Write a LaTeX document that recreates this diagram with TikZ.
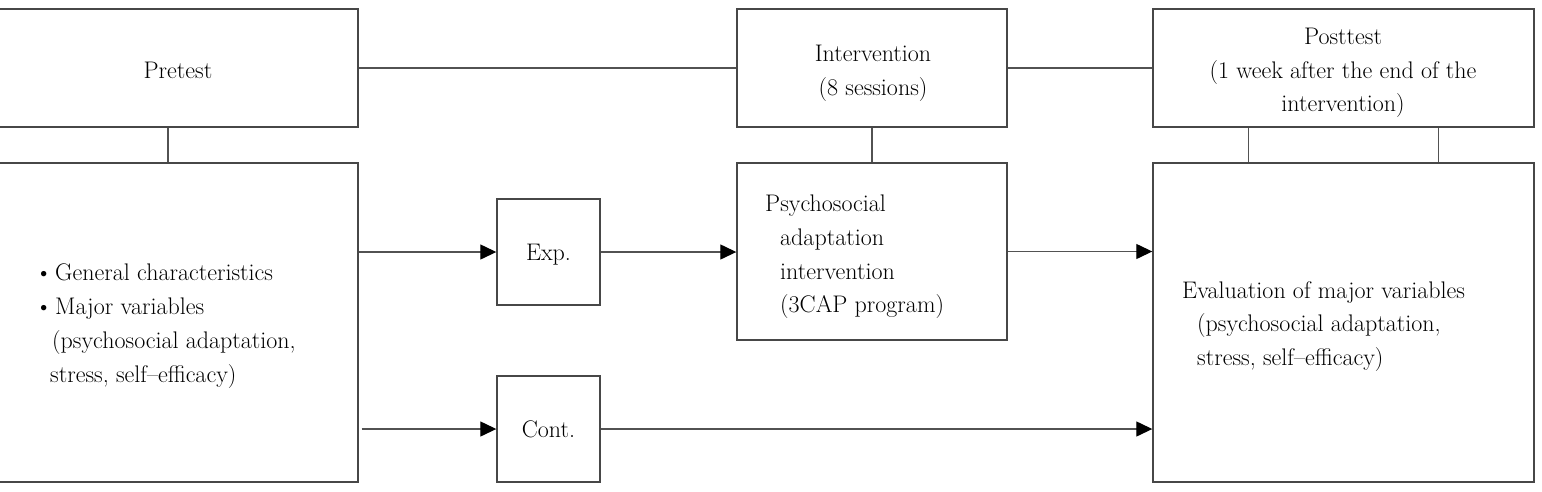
\documentclass[tikz,border=0pt]{standalone}
\usetikzlibrary{arrows.meta}
\begin{document}
\begin{tikzpicture}[x=1pt,y=-1pt,
  box/.style={draw=black!72, line width=1.4pt, inner sep=0pt, fill=none},
  lbl/.style={inner sep=0pt, anchor=base west, text=black},
  clbl/.style={inner sep=0pt, anchor=base, text=black},
  conn/.style={draw=black!68, line width=1.3pt},
  arr/.style={conn, -{Triangle[length=16pt,width=15pt,black]}},
  font=\fontsize{24}{34}\selectfont]
\useasboundingbox (0,0) rectangle (1542,491);
% boxes
\node[box, minimum width=360pt, minimum height=118pt] (pre) at (178,68) {};
\node[box, minimum width=270pt, minimum height=118pt] (int) at (872,68) {};
\node[box, minimum width=381pt, minimum height=118pt] (post) at (1343.5,68) {};
\node[box, minimum width=360pt, minimum height=319pt] (left) at (178,322.5) {};
\node[box, minimum width=103pt, minimum height=106pt] (exp) at (548.5,252) {};
\node[box, minimum width=103pt, minimum height=106pt] (cont) at (548.5,429) {};
\node[box, minimum width=270pt, minimum height=177pt] (psy) at (872,251.5) {};
\node[box, minimum width=381pt, minimum height=319pt] (right) at (1343.5,322.5) {};
% texts
\node[clbl] (tpre) at (178,78) {Pretest};
\node[clbl] (tint1) at (873,61) {Intervention};
\node[clbl] (tint2) at (873,95) {(8 sessions)};
\node[clbl] (tpost1) at (1343,44) {Posttest};
\node[clbl] (tpost2) at (1343,78) {(1 week after the end of the};
\node[clbl] (tpost3) at (1343,111) {intervention)};
\node[lbl] (b1) at (35,280) {\textbullet};
\node[lbl] (tl1) at (55,280) {General characteristics};
\node[lbl] (b2) at (35,314) {\textbullet};
\node[lbl] (tl2) at (55,314) {Major variables};
\node[lbl] (tl3) at (52,348) {(psychosocial adaptation,};
\node[lbl] (tl4) at (50,382) {stress, self--efficacy)};
\node[clbl] (texp) at (548.5,260) {Exp.};
\node[clbl] (tcont) at (548.5,437) {Cont.};
\node[lbl] (tp1) at (765,211) {Psychosocial};
\node[lbl] (tp2) at (780,245) {adaptation};
\node[lbl] (tp3) at (780,279) {intervention};
\node[lbl] (tp4) at (780,312) {(3CAP program)};
\node[lbl] (te1) at (1182,298) {Evaluation of major variables};
\node[lbl] (te2) at (1197,331) {(psychosocial adaptation,};
\node[lbl] (te3) at (1197,365) {stress, self--efficacy)};
% connectors
\draw[conn] (pre.east) -- (int.west);
\draw[conn] (int.east) -- (post.west);
\draw[conn] ([xshift=-10pt]pre.south) -- ([xshift=-10pt]left.north);
\draw[conn] (int.south) -- (psy.north);
\draw[conn] ([xshift=-95pt]post.south) -- ([xshift=-95pt]right.north);
\draw[conn] ([xshift=95pt]post.south) -- ([xshift=95pt]right.north);
\draw[arr] (left.east |- exp.west) -- (exp.west);
\draw[arr] (exp.east) -- (exp.east -| psy.west);
\draw[arr] (psy.east) -- (psy.east -| right.west);
\draw[arr] ([xshift=3pt]left.east |- cont.west) -- (cont.west);
\draw[arr] (cont.east) -- (cont.east -| right.west);
\end{tikzpicture}
\end{document}
